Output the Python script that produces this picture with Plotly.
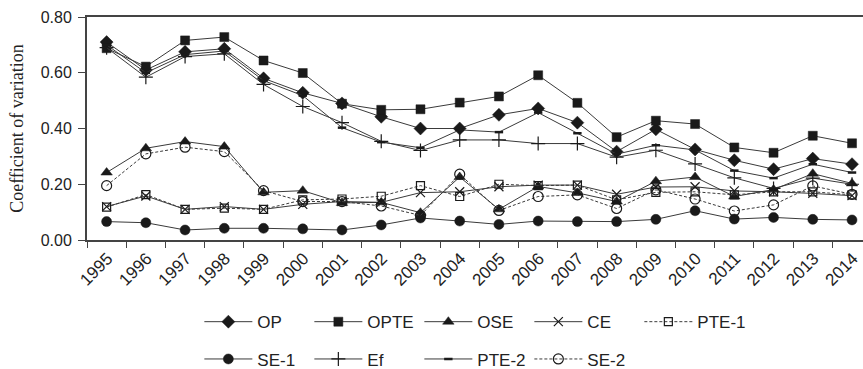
import plotly.graph_objects as go

years = [str(y) for y in range(1995, 2015)]

OP = [0.710, 0.610, 0.675, 0.686, 0.580, 0.528, 0.490, 0.442, 0.400, 0.400,
      0.449, 0.472, 0.421, 0.317, 0.397, 0.325, 0.286, 0.254, 0.292, 0.272]
OPTE = [0.688, 0.622, 0.716, 0.728, 0.644, 0.599, 0.489, 0.467, 0.469, 0.493,
        0.515, 0.591, 0.492, 0.369, 0.428, 0.416, 0.332, 0.313, 0.374, 0.347]
OSE = [0.242, 0.329, 0.353, 0.335, 0.171, 0.177, 0.133, 0.135, 0.098, 0.226,
       0.110, 0.192, 0.169, 0.138, 0.211, 0.226, 0.156, 0.181, 0.238, 0.203]
CE = [0.120, 0.158, 0.110, 0.120, 0.110, 0.128, 0.138, 0.135, 0.170, 0.173,
      0.191, 0.197, 0.197, 0.164, 0.190, 0.191, 0.176, 0.173, 0.167, 0.159]
PTE_1 = [0.118, 0.163, 0.110, 0.114, 0.110, 0.144, 0.147, 0.157, 0.195, 0.156,
         0.200, 0.195, 0.197, 0.144, 0.171, 0.173, 0.162, 0.173, 0.173, 0.162]
SE_1 = [0.066, 0.062, 0.036, 0.042, 0.042, 0.040, 0.036, 0.054, 0.079, 0.068,
        0.056, 0.068, 0.066, 0.066, 0.074, 0.105, 0.075, 0.081, 0.074, 0.072]
Ef = [0.690, 0.584, 0.658, 0.668, 0.558, 0.479, 0.421, 0.354, 0.321, 0.359,
      0.359, 0.346, 0.346, 0.297, 0.322, 0.273, 0.223, 0.185, 0.222, 0.200]
PTE_2 = [0.700, 0.600, 0.665, 0.678, 0.572, 0.518, 0.403, 0.351, 0.331, 0.395,
         0.387, 0.457, 0.383, 0.308, 0.340, 0.323, 0.249, 0.222, 0.272, 0.242]
SE_2 = [0.195, 0.309, 0.333, 0.317, 0.177, 0.138, 0.138, 0.122, 0.088, 0.236,
        0.106, 0.156, 0.162, 0.113, 0.180, 0.147, 0.104, 0.126, 0.194, 0.164]

LINE = "#3a3a3a"
MARK = "#1a1a1a"

specs = [
    ("OP", OP, "diamond", 10, "solid", "legend"),
    ("OPTE", OPTE, "square", 9, "solid", "legend"),
    ("OSE", OSE, "triangle-up", 10, "solid", "legend"),
    ("CE", CE, "x-thin", 9, "solid", "legend"),
    ("PTE-1", PTE_1, "square-open", 8, "3px,2px", "legend"),
    ("SE-1", SE_1, "circle", 10, "solid", "legend2"),
    ("Ef", Ef, "cross-thin", 10, "solid", "legend2"),
    ("PTE-2", PTE_2, "line-ew", 6, "solid", "legend2"),
    ("SE-2", SE_2, "circle-open", 10, "3px,2px", "legend2"),
]

fig = go.Figure()
for name, vals, sym, size, dash, leg in specs:
    thin = sym in ("x-thin", "cross-thin", "line-ew")
    fig.add_trace(go.Scatter(
        x=years, y=vals, name=name, mode="lines+markers",
        line=dict(color=LINE, width=1, dash=dash),
        marker=dict(symbol=sym, size=size, color=MARK,
                    line=dict(color=MARK, width=2.5 if sym == "line-ew" else (1.2 if thin or "open" in sym else 0.5))),
        legend=leg,
    ))

tickfont = dict(family="Liberation Sans", size=16, color="#222")
xtickfont = dict(family="Liberation Sans", size=17, color="#222")
legfont = dict(family="Liberation Sans", size=17, color="#222")

fig.update_layout(
    width=863, height=369,
    margin=dict(l=87, r=0, t=17, b=129),
    plot_bgcolor="white", paper_bgcolor="white",
    showlegend=True,
    xaxis=dict(type="category", range=[-0.5, 19.28], tickson="boundaries",
               ticks="outside", ticklen=6, tickwidth=1, tickcolor="#444",
               showline=True, linecolor="#444", linewidth=2, mirror=True,
               showgrid=False, tickangle=-45, tickfont=xtickfont,
               ticklabelshift=1, automargin=False),
    yaxis=dict(range=[0, 0.8], dtick=0.2, tickformat=".2f", ticks="outside",
               ticklen=7, tickcolor="#444", showline=True, linewidth=2,
               linecolor="#444", showgrid=False, zeroline=False,
               tickfont=tickfont, automargin=False, ticklabelstandoff=3,
               title=dict(text="Coefficient of variation",
                          font=dict(family="Liberation Serif", size=18, color="#222"),
                          standoff=12)),
    legend=dict(orientation="h", xref="container", yref="container",
                x=0.231, y=0.127, xanchor="left", yanchor="middle",
                font=legfont, itemwidth=48, entrywidth=47, entrywidthmode="pixels",
                bgcolor="rgba(0,0,0,0)"),
    legend2=dict(orientation="h", xref="container", yref="container",
                 x=0.231, y=0.026, xanchor="left", yanchor="middle",
                 font=legfont, itemwidth=48, entrywidth=47, entrywidthmode="pixels",
                 bgcolor="rgba(0,0,0,0)"),
)

fig.write_html("out.html", config={"displayModeBar": False},
               post_script="document.body.style.margin='0';")
